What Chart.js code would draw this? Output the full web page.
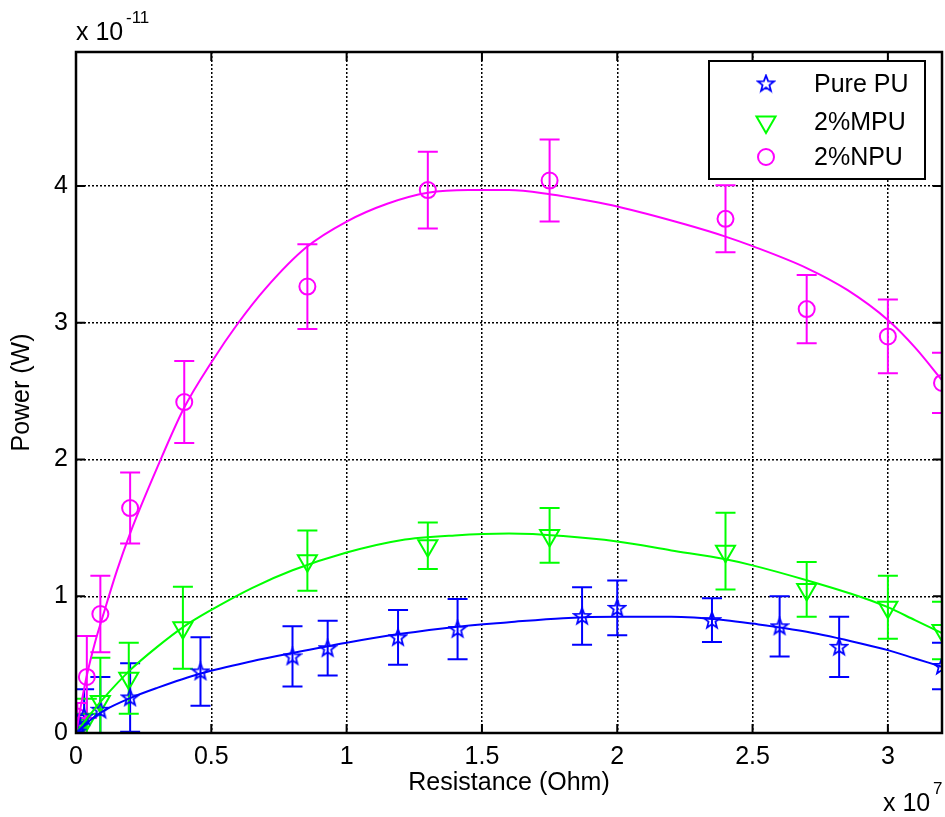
<!DOCTYPE html>
<html>
<head>
<meta charset="utf-8">
<script src="https://cdn.jsdelivr.net/npm/chart.js@4.4.0/dist/chart.umd.min.js"></script>
<style>
  body { margin: 0; background: #fff; }
  canvas { display: block; }
</style>
</head>
<body>
<canvas id="grafico" width="945" height="817"></canvas>
<script>
// Measured points (x in 1e7 Ohm, y in 1e-11 W), with symmetric error
const puX = [0.002, 0.01, 0.03, 0.09, 0.2, 0.46, 0.8, 0.93, 1.19, 1.41, 1.87, 2.0, 2.35, 2.6, 2.82, 3.2];
const puY = [0.01, 0.05, 0.12, 0.17, 0.26, 0.45, 0.56, 0.62, 0.70, 0.76, 0.855, 0.915, 0.825, 0.78, 0.63, 0.49];
const puErr = [0.02, 0.08, 0.2, 0.24, 0.25, 0.25, 0.22, 0.2, 0.2, 0.22, 0.21, 0.2, 0.16, 0.22, 0.22, 0.17];

const mpuX = [0.002, 0.01, 0.04, 0.09, 0.195, 0.395, 0.855, 1.3, 1.75, 2.4, 2.7, 3.0, 3.2];
const mpuY = [0.0, 0.04, 0.1, 0.23, 0.40, 0.77, 1.26, 1.37, 1.445, 1.33, 1.05, 0.92, 0.75];
const mpuErr = [0.02, 0.06, 0.15, 0.32, 0.26, 0.3, 0.22, 0.17, 0.2, 0.28, 0.2, 0.23, 0.21];

const npuX = [0.002, 0.005, 0.04, 0.09, 0.2, 0.4, 0.855, 1.3, 1.75, 2.4, 2.7, 3.0, 3.2];
const npuY = [0.03, 0.12, 0.41, 0.87, 1.645, 2.42, 3.265, 3.97, 4.04, 3.76, 3.10, 2.90, 2.56];
const npuErr = [0.03, 0.1, 0.3, 0.28, 0.26, 0.3, 0.31, 0.28, 0.3, 0.245, 0.25, 0.27, 0.22];

// Fitted curves
const fitPuX = [0, 0.05, 0.1, 0.2, 0.3, 0.46, 0.65, 0.8, 1.0, 1.2, 1.4, 1.6, 1.8, 2.0, 2.2, 2.4, 2.5, 2.7, 2.9, 3.0, 3.1, 3.2];
const fitPuY = [0, 0.09, 0.16, 0.255, 0.33, 0.435, 0.525, 0.585, 0.66, 0.725, 0.776, 0.81, 0.84, 0.85, 0.85, 0.825, 0.80, 0.74, 0.655, 0.606, 0.545, 0.484];

const fitMpuX = [0, 0.05, 0.1, 0.2, 0.3, 0.4, 0.5, 0.65, 0.8, 1.0, 1.2, 1.4, 1.6, 1.8, 2.0, 2.2, 2.4, 2.5, 2.7, 2.9, 3.0, 3.1, 3.2];
const fitMpuY = [0, 0.13, 0.25, 0.46, 0.63, 0.78, 0.90, 1.06, 1.19, 1.32, 1.41, 1.445, 1.458, 1.44, 1.40, 1.335, 1.27, 1.226, 1.117, 0.995, 0.92, 0.825, 0.73];

const fitNpuX = [0, 0.02, 0.04, 0.07, 0.1, 0.15, 0.2, 0.3, 0.4, 0.5, 0.6, 0.7, 0.85, 1.0, 1.15, 1.3, 1.45, 1.6, 1.75, 1.9, 2.0, 2.25, 2.4, 2.5, 2.7, 2.85, 3.0, 3.1, 3.2];
const fitNpuY = [0, 0.22, 0.42, 0.66, 0.86, 1.18, 1.46, 1.94, 2.38, 2.71, 3.0, 3.25, 3.55, 3.74, 3.87, 3.95, 3.97, 3.97, 3.94, 3.89, 3.85, 3.72, 3.63, 3.56, 3.40, 3.24, 3.02, 2.82, 2.58];

const seriesNames = ['Pure PU', '2%MPU', '2%NPU'];
const cores = ['#0000FF', '#00FF00', '#FF00FF'];

const pts = (xs, ys) => xs.map((x, i) => ({ x: x, y: ys[i] }));

// pentagram marker
function estrela(cor) {
  const c = document.createElement('canvas');
  c.width = 20; c.height = 20;
  const g = c.getContext('2d');
  g.strokeStyle = cor;
  g.lineWidth = 1.8;
  g.beginPath();
  for (let i = 0; i < 10; i++) {
    const r = i % 2 === 0 ? 8.5 : 3.6;
    const a = -Math.PI / 2 + i * Math.PI / 5;
    const px = 10 + r * Math.cos(a), py = 10.5 + r * Math.sin(a);
    if (i === 0) g.moveTo(px, py); else g.lineTo(px, py);
  }
  g.closePath();
  g.stroke();
  return c;
}
const starImg = estrela(cores[0]);

const fonte = 'Liberation Sans, Arial, sans-serif';
const tam = 25;

const errorSets = [
  { xs: puX, ys: puY, err: puErr, cor: cores[0] },
  { xs: mpuX, ys: mpuY, err: mpuErr, cor: cores[1] },
  { xs: npuX, ys: npuY, err: npuErr, cor: cores[2] }
];

function marcador(ctx, k, x, y) {
  ctx.save();
  ctx.strokeStyle = cores[k];
  ctx.lineWidth = 2;
  if (k === 0) {
    ctx.drawImage(starImg, x - 10, y - 10.5);
  } else if (k === 1) {
    const r = 11;
    ctx.beginPath();
    ctx.moveTo(x, y + r);
    ctx.lineTo(x - r * Math.sin(Math.PI / 3), y - r / 2);
    ctx.lineTo(x + r * Math.sin(Math.PI / 3), y - r / 2);
    ctx.closePath();
    ctx.stroke();
  } else {
    ctx.beginPath();
    ctx.arc(x, y, 8, 0, Math.PI * 2);
    ctx.stroke();
  }
  ctx.restore();
}

const extras = {
  id: 'extras',
  beforeDatasetsDraw(chart) {
    const { ctx, chartArea: a, scales: { x, y } } = chart;
    ctx.save();
    ctx.beginPath();
    ctx.rect(a.left, a.top, a.right - a.left, a.bottom - a.top);
    ctx.clip();
    ctx.lineWidth = 2;
    errorSets.forEach(s => {
      ctx.strokeStyle = s.cor;
      s.xs.forEach((xv, i) => {
        const px = x.getPixelForValue(xv);
        const top = y.getPixelForValue(s.ys[i] + s.err[i]);
        const bot = y.getPixelForValue(s.ys[i] - s.err[i]);
        ctx.beginPath();
        ctx.moveTo(px, top); ctx.lineTo(px, bot);
        ctx.moveTo(px - 10, top); ctx.lineTo(px + 10, top);
        ctx.moveTo(px - 10, bot); ctx.lineTo(px + 10, bot);
        ctx.stroke();
      });
    });
    ctx.restore();
  },
  afterDraw(chart) {
    const { ctx, chartArea: a, scales: { x, y } } = chart;
    ctx.save();
    // inward ticks
    ctx.strokeStyle = '#000';
    ctx.lineWidth = 2;
    ctx.beginPath();
    x.ticks.forEach(t => {
      const px = x.getPixelForValue(t.value);
      ctx.moveTo(px, a.bottom); ctx.lineTo(px, a.bottom - 9);
      ctx.moveTo(px, a.top); ctx.lineTo(px, a.top + 9);
    });
    y.ticks.forEach(t => {
      const py = y.getPixelForValue(t.value);
      ctx.moveTo(a.left, py); ctx.lineTo(a.left + 9, py);
      ctx.moveTo(a.right, py); ctx.lineTo(a.right - 9, py);
    });
    ctx.stroke();
    // frame
    ctx.lineWidth = 2.5;
    ctx.strokeRect(a.left, a.top, a.right - a.left, a.bottom - a.top);

    // legend
    const lx = 709, ly = 61, lw = 216, lh = 118;
    ctx.fillStyle = '#fff';
    ctx.fillRect(lx, ly, lw, lh);
    ctx.lineWidth = 2;
    ctx.strokeRect(lx, ly, lw, lh);
    const linhas = [84, 122, 157];
    ctx.font = tam + 'px ' + fonte;
    ctx.textBaseline = 'middle';
    ctx.textAlign = 'left';
    seriesNames.forEach((nome, k) => {
      marcador(ctx, k, 766, linhas[k]);
      ctx.fillStyle = '#000';
      ctx.fillText(nome, 814, linhas[k] + 1);
    });

    // exponents
    ctx.fillStyle = '#000';
    ctx.textBaseline = 'alphabetic';
    ctx.font = tam + 'px ' + fonte;
    ctx.fillText('x 10', 76, 40);
    ctx.fillText('x 10', 883, 811);
    ctx.font = '17px ' + fonte;
    ctx.fillText('-11', 126, 23);
    ctx.fillText('7', 933, 794);
    ctx.restore();
  }
};

const linhaFit = (xs, ys, cor) => ({
  type: 'line',
  data: pts(xs, ys),
  borderColor: cor,
  borderWidth: 2,
  pointRadius: 0,
  cubicInterpolationMode: 'monotone',
  fill: false
});

new Chart(document.getElementById('grafico'), {
  type: 'scatter',
  data: {
    datasets: [
      linhaFit(fitPuX, fitPuY, cores[0]),
      linhaFit(fitMpuX, fitMpuY, cores[1]),
      linhaFit(fitNpuX, fitNpuY, cores[2]),
      {
        label: seriesNames[0],
        data: pts(puX, puY),
        pointStyle: starImg,
        pointRadius: 9
      },
      {
        label: seriesNames[1],
        data: pts(mpuX, mpuY),
        pointStyle: 'triangle',
        rotation: 180,
        pointRadius: 11,
        borderColor: cores[1],
        backgroundColor: 'rgba(0,0,0,0)',
        borderWidth: 2
      },
      {
        label: seriesNames[2],
        data: pts(npuX, npuY),
        pointStyle: 'circle',
        pointRadius: 8,
        borderColor: cores[2],
        backgroundColor: 'rgba(0,0,0,0)',
        borderWidth: 2
      }
    ]
  },
  options: {
    responsive: false,
    animation: false,
    layout: { autoPadding: false, padding: { top: 52, right: 3, left: 0, bottom: 0 } },
    plugins: {
      legend: { display: false },
      tooltip: { enabled: false }
    },
    scales: {
      x: {
        type: 'linear',
        min: 0,
        max: 3.2,
        afterFit: s => { s.height = 84; s.paddingRight = 0; },
        ticks: {
          stepSize: 0.5,
          includeBounds: false,
          padding: 9,
          color: '#000',
          font: { family: fonte, size: tam },
          maxRotation: 0,
          callback: v => String(Math.round(v * 10) / 10)
        },
        grid: { color: '#000', lineWidth: 1.5, drawTicks: false },
        border: { display: false, dash: [2, 2] },
        title: {
          display: true,
          text: 'Resistance (Ohm)',
          color: '#000',
          font: { family: fonte, size: tam },
          padding: { top: 0, bottom: 19 }
        }
      },
      y: {
        type: 'linear',
        min: 0,
        max: 4.98,
        afterFit: s => { s.width = 76; },
        ticks: {
          stepSize: 1,
          includeBounds: false,
          padding: 8,
          color: '#000',
          font: { family: fonte, size: tam }
        },
        grid: { color: '#000', lineWidth: 1.5, drawTicks: false },
        border: { display: false, dash: [2, 2] },
        title: {
          display: true,
          text: 'Power (W)',
          color: '#000',
          font: { family: fonte, size: tam },
          padding: { top: 7, bottom: 0 }
        }
      }
    }
  },
  plugins: [extras]
});
</script>
</body>
</html>
